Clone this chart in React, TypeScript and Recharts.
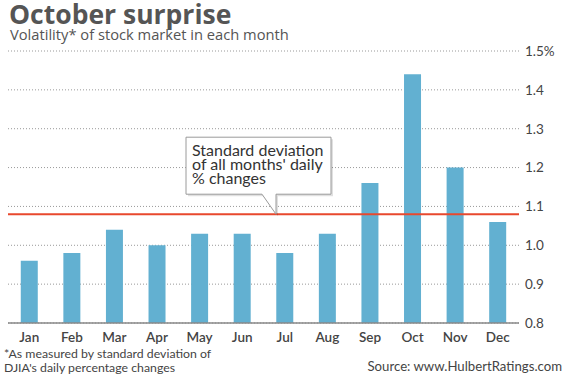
import React from 'react';
import { BarChart, Bar, XAxis, YAxis, CartesianGrid, ReferenceLine } from 'recharts';

const months = ['Jan', 'Feb', 'Mar', 'Apr', 'May', 'Jun', 'Jul', 'Aug', 'Sep', 'Oct', 'Nov', 'Dec'];
const volatility = [0.96, 0.98, 1.04, 1.0, 1.03, 1.03, 0.98, 1.03, 1.16, 1.44, 1.2, 1.06];
const yTicks = [0.8, 0.9, 1.0, 1.1, 1.2, 1.3, 1.4, 1.5];
const allMonthsStdDev = 1.08;
const calloutLines = ['Standard deviation', "of all months' daily", '% changes'];

const data = months.map((m, i) => ({ month: m, value: volatility[i] }));

const FONT = 'Lato, "Open Sans", sans-serif';
const HEAD_FONT = '"Open Sans", Lato, sans-serif';
const BAR = '#62b0d1';
const TEXT = '#444';

const formatTick = (v: number) => (v === 1.5 ? '1.5%' : v.toFixed(1));

// callout box hanging above the red line
const Callout = (props: any) => {
  const { viewBox } = props;
  const lineY = viewBox.y;
  const tipX = viewBox.x + 268;
  const left = viewBox.x + 178;
  const right = viewBox.x + 323;
  const bottom = lineY - 20;
  const top = bottom - 57;
  const path = `M${left},${top} L${right},${top} L${right},${bottom} L${tipX},${bottom} L${tipX},${lineY} L${tipX - 14},${bottom} L${left},${bottom} Z`;
  return (
    <g>
      <path d={path} fill="#000" opacity={0.12} transform="translate(2,2)" />
      <path d={path} fill="#fff" stroke="#9a9a9a" strokeWidth={1} />
      {calloutLines.map((t, i) => (
        <text key={i} x={left + 6} y={top + 19 + i * 14} fontSize={16} fill="#333" fontFamily={FONT}>
          {t}
        </text>
      ))}
    </g>
  );
};

export default function App() {
  return (
    <div style={{ position: 'absolute', left: 0, top: 0, width: 570, height: 386, background: '#fff', fontFamily: FONT }}>
      <div style={{ position: 'absolute', left: 9, top: 2, fontSize: 26.5, lineHeight: '24px', fontWeight: 700, color: '#555', fontFamily: HEAD_FONT }}>
        October surprise
      </div>
      <div style={{ position: 'absolute', left: 10, top: 26, fontSize: 14.7, lineHeight: '16px', color: '#555', fontFamily: HEAD_FONT }}>
        Volatility* of stock market in each month
      </div>
      <BarChart
        width={570}
        height={386}
        data={data}
        margin={{ top: 51, right: 11, bottom: 38, left: 8 }}
        barCategoryGap="30%"
      >
        <CartesianGrid vertical={false} stroke="#999" strokeDasharray="1 2" />
        <XAxis
          dataKey="month"
          height={25}
          axisLine={{ stroke: '#888', strokeWidth: 1.5 }}
          tickLine={false}
          tick={{ fontSize: 13.5, fill: TEXT, fontFamily: FONT, fontWeight: 600 }}
          tickMargin={3}
          interval={0}
        />
        <YAxis
          orientation="right"
          domain={[0.8, 1.5]}
          ticks={yTicks}
          width={40}
          axisLine={false}
          tickLine={false}
          tickSize={0}
          tickMargin={6}
          tickFormatter={formatTick}
          tick={{ fontSize: 13.5, fill: TEXT, fontFamily: FONT, textAnchor: 'start' }}
          allowDataOverflow
        />
        <Bar dataKey="value" fill={BAR} isAnimationActive={false} />
        <ReferenceLine y={allMonthsStdDev} stroke="#e8482e" strokeWidth={2} label={<Callout />} />
      </BarChart>
      <div style={{ position: 'absolute', left: 4, top: 347, fontSize: 12.3, color: TEXT, lineHeight: '13.5px' }}>
        *As measured by standard deviation of
        <br />
        DJIA's daily percentage changes
      </div>
      <div style={{ position: 'absolute', right: 8, top: 359, fontSize: 13.2, color: TEXT, lineHeight: '15px' }}>
        Source: www.HulbertRatings.com
      </div>
    </div>
  );
}
